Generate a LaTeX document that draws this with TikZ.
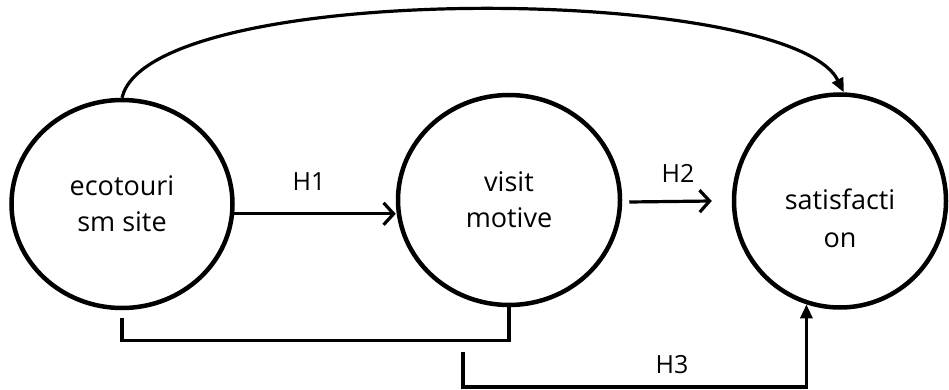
\documentclass[tikz,border=0pt]{standalone}
\usepackage{fontspec}
\setmainfont{Open Sans}
\usetikzlibrary{shapes.geometric,arrows.meta}
\tikzset{
  var/.style={ellipse,draw,line width=4.5pt,align=center,
    font=\fontsize{27}{36}\selectfont},
  hyp/.style={font=\fontsize{25}{30}\selectfont},
  barb/.style={-{Straight Barb[length=10pt,width=22pt,line width=3.2pt]}}
}
\begin{document}
\begin{tikzpicture}[x=1pt,y=1pt,>={Triangle[length=14pt,width=12pt]},line width=3.2pt]
\useasboundingbox (0,0) rectangle (949,389);
\node[var,minimum width=221pt,minimum height=208pt] (eco) at (122,185) {ecotouri\\sm site};
\node[var,minimum width=222pt,minimum height=210pt] (mot) at (509,189) {visit\\motive};
\node[var,minimum width=212pt,minimum height=213pt] (sat) at (840,188) {};
\node[align=center,font=\fontsize{27}{38}\selectfont] (sattext) at ([yshift=-17pt]sat.center) {satisfacti\\on};
\draw[barb](eco.-5)--(eco.-5 -| mot.west);
\node[hyp] (h1) at (309,207) {H1};
\draw[barb]([xshift=7pt,yshift=-2pt]mot.east)--([xshift=-20pt]sat.west);
\node[hyp] (h2) at (678,216) {H2};
\draw[->](eco.north)..controls (150,410) and (790,405)..(sat.88);
\draw(eco.south)++(0,-8)--++(0,-22)-|(mot.south);
\coordinate (h3start) at (463,37);
\draw[->](h3start)--++(0,-35)-|(sat.252);
\node[hyp] (h3) at (672,24) {H3};
\end{tikzpicture}
\end{document}
